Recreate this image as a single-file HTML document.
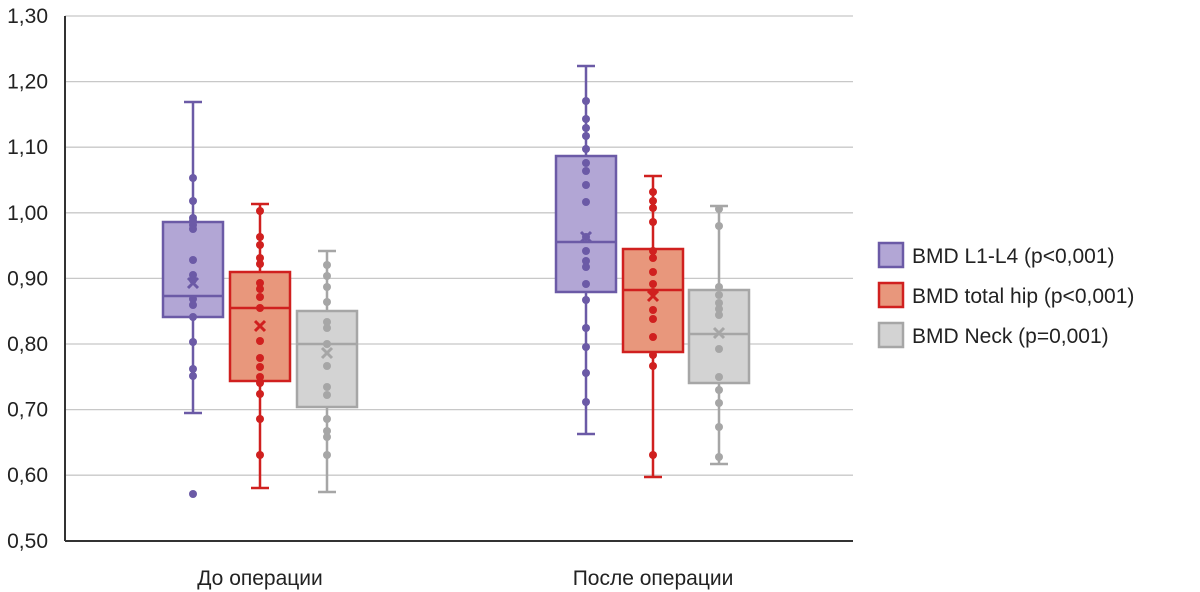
<!DOCTYPE html>
<html><head><meta charset="utf-8"><style>
html,body{margin:0;padding:0;background:#fff;}
svg{display:block;font-family:"Liberation Sans",sans-serif;}
</style></head><body>
<svg id="s" width="1200" height="592" viewBox="0 0 1200 592" xmlns="http://www.w3.org/2000/svg"></svg>
<script>
var s=document.getElementById('s'),h='';
var labels=['1,30','1,20','1,10','1,00','0,90','0,80','0,70','0,60','0,50'];
for(var i=0;i<9;i++){var y=16+i*65.6;
 if(i<8)h+='<line x1="65" x2="853" y1="'+y+'" y2="'+y+'" stroke="#c8c8c8" stroke-width="1.3"/>';
 h+='<text x="48" y="'+(y+7)+'" font-size="21" text-anchor="end" fill="#222">'+labels[i]+'</text>';}
h+='<line x1="65" x2="853" y1="541" y2="541" stroke="#333" stroke-width="2"/>';
h+='<line x1="65" x2="65" y1="16" y2="541" stroke="#333" stroke-width="2"/>';
var C={p:['#6b5aa6','#b2a6d5'],r:['#d0201f','#e8977c'],g:['#a6a6a6','#d3d3d3']};
function box(c,cx,wt,wb,bt,bb,med,mean,dots){var k=C[c];
 h+='<line x1="'+cx+'" x2="'+cx+'" y1="'+wt+'" y2="'+wb+'" stroke="'+k[0]+'" stroke-width="2.5"/>';
 h+='<line x1="'+(cx-9)+'" x2="'+(cx+9)+'" y1="'+wt+'" y2="'+wt+'" stroke="'+k[0]+'" stroke-width="2.5"/>';
 h+='<line x1="'+(cx-9)+'" x2="'+(cx+9)+'" y1="'+wb+'" y2="'+wb+'" stroke="'+k[0]+'" stroke-width="2.5"/>';
 h+='<rect x="'+(cx-30)+'" y="'+bt+'" width="60" height="'+(bb-bt)+'" fill="'+k[1]+'" stroke="'+k[0]+'" stroke-width="2.5"/>';
 h+='<line x1="'+(cx-30)+'" x2="'+(cx+30)+'" y1="'+med+'" y2="'+med+'" stroke="'+k[0]+'" stroke-width="2.5"/>';
 dots.forEach(function(d){h+='<circle cx="'+cx+'" cy="'+d+'" r="4" fill="'+k[0]+'"/>';});
 h+='<path d="M'+(cx-5)+' '+(mean-5)+'L'+(cx+5)+' '+(mean+5)+'M'+(cx+5)+' '+(mean-5)+'L'+(cx-5)+' '+(mean+5)+'" stroke="'+k[0]+'" stroke-width="3"/>';}
box('p',193,102,413,222,317,296,283,[178,201,218,221,225,229,260,275,280,299,305,317,342,369,376,494]);
box('r',260,204,488,272,381,308,326,[211,237,245,258,264,283,289,297,308,341,358,367,377,383,394,419,455]);
box('g',327,251,492,311,407,344,353,[265,276,287,302,322,328,344,366,387,395,419,431,437,455]);
box('p',586,66,434,156,292,242,237,[101,119,128,136,149,163,171,185,202,237,251,261,267,284,300,328,347,373,402]);
box('r',653,176,477,249,352,290,296,[192,201,208,222,251,258,272,284,292,310,319,337,355,366,455]);
box('g',719,206,464,290,383,334,333,[209,226,287,295,303,309,315,349,377,390,403,427,457]);
h+='<text x="260" y="585" font-size="21" text-anchor="middle" fill="#222">До операции</text>';
h+='<text x="653" y="585" font-size="21" text-anchor="middle" fill="#222">После операции</text>';
var L=[['p','BMD L1-L4 (p&lt;0,001)',243],['r','BMD total hip (p&lt;0,001)',283],['g','BMD Neck (p=0,001)',323]];
L.forEach(function(l){var k=C[l[0]];
 h+='<rect x="879" y="'+l[2]+'" width="24" height="24" fill="'+k[1]+'" stroke="'+k[0]+'" stroke-width="2.5"/>';
 h+='<text x="912" y="'+(l[2]+20)+'" font-size="21" fill="#222">'+l[1]+'</text>';});
s.innerHTML=h;
</script>
</body></html>
